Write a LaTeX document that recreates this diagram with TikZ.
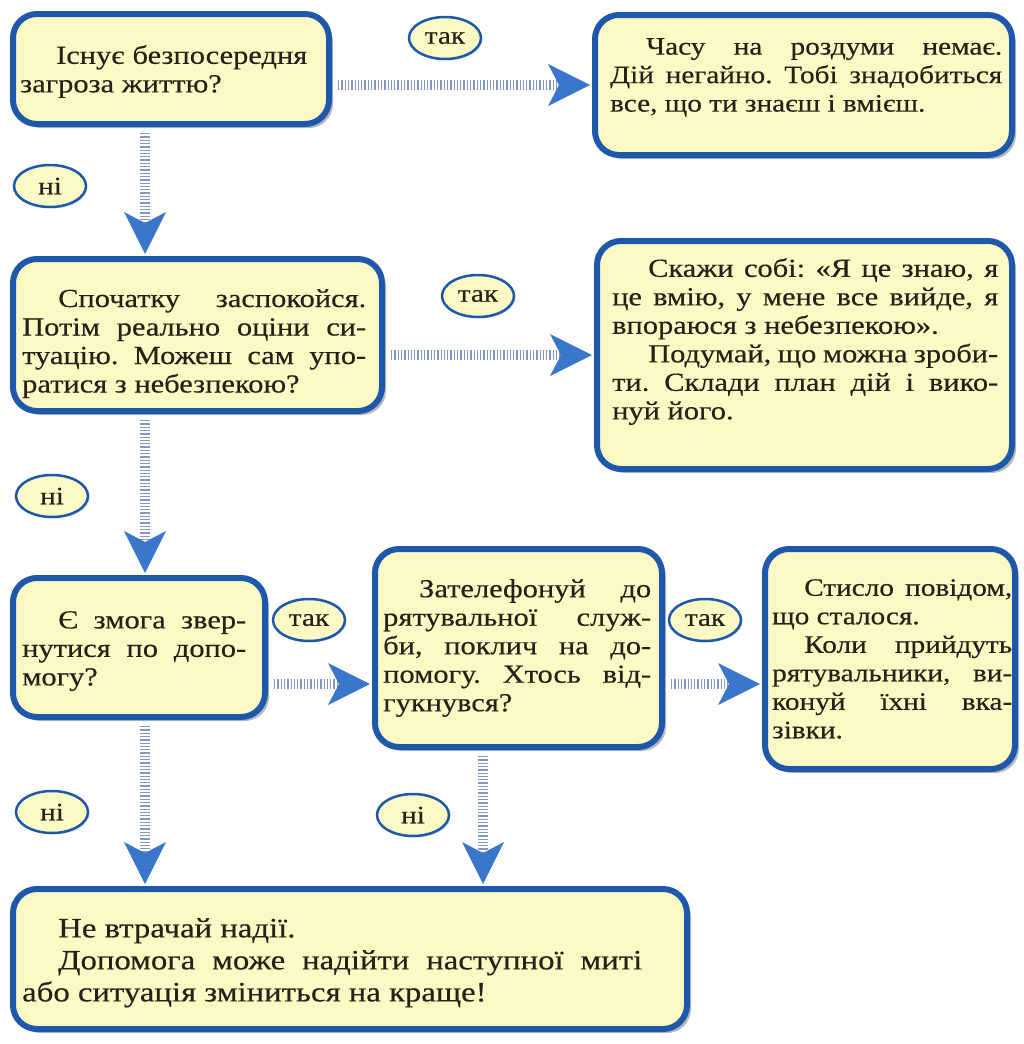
\documentclass[tikz,border=0pt]{standalone}
\usepackage{fontspec}
\setmainfont{Liberation Serif}[FakeStretch=1.17,FakeBold=0.4]
\usetikzlibrary{arrows.meta,shadows,calc,shapes.geometric}
\definecolor{boxfill}{RGB}{252,250,196}
\definecolor{boxline}{RGB}{30,88,170}
\definecolor{headblue}{RGB}{58,118,204}
\definecolor{dotblue}{RGB}{130,152,194}
\definecolor{ink}{RGB}{40,32,24}
\tolerance=9999
\hbadness=10000
\hfuzz=20pt
\hyphenpenalty=10000
\frenchspacing
\newcommand{\pin}{\hspace*{36pt}}
\tikzset{
  box/.style={draw=boxline, line width=6pt, fill=boxfill, rounded corners=24pt, inner sep=0pt,
    drop shadow={shadow xshift=4pt, shadow yshift=-4pt, fill=black!55, opacity=0.5}},
  boxtext/.style={anchor=north west, inner sep=0pt, text=ink, align=justify,
    font=\fontsize{26pt}{28.5pt}\selectfont},
  smalltext/.style={font=\fontsize{25pt}{28.5pt}\selectfont},
  bigtext/.style={font=\fontsize{28pt}{32pt}\selectfont},
  tag/.style={ellipse, draw=boxline, line width=2.5pt, fill=boxfill, minimum width=72pt,
    minimum height=42pt, inner sep=0pt, text=ink, font=\fontsize{25pt}{29pt}\selectfont,
    drop shadow={shadow xshift=1.5pt, shadow yshift=-1.5pt, fill=boxline!40, opacity=0.5}},
  conn/.style={draw=dotblue, line width=10pt, dash pattern=on 1.3pt off 2pt,
    shorten <=6pt, shorten >=2pt,
    -{Stealth[length=42pt,width=42pt,inset=11pt,color=headblue,line width=0pt]}},
}
\begin{document}
\begin{tikzpicture}[x=1pt,y=-1pt]
\useasboundingbox (0,0) rectangle (1023,1044);

% boxes
\node[box, minimum width=316pt, minimum height=110pt] (b1) at (171,69) {};
\node[box, minimum width=417pt, minimum height=140pt] (b2) at (803.5,85) {};
\node[box, minimum width=369pt, minimum height=152pt] (b3) at (197.5,335) {};
\node[box, minimum width=415pt, minimum height=228pt] (b4) at (804.5,355) {};
\node[box, minimum width=252pt, minimum height=139pt] (b5) at (139,647.5) {};
\node[box, minimum width=287pt, minimum height=198pt] (b6) at (518.5,648) {};
\node[box, minimum width=250pt, minimum height=220pt] (b7) at (890,659) {};
\node[box, minimum width=674pt, minimum height=140pt] (b8) at (350,959) {};

% texts
\node[boxtext, text width=287pt] (t1) at (20,45)
  {\pin Існує безпосередня\linebreak загроза життю?};
\node[boxtext, smalltext, text width=392pt] (t2) at (610,38)
  {\pin Часу на роздуми немає.\linebreak Дій негайно. Тобі знадобиться\linebreak все, що ти знаєш і вмієш.};
\node[boxtext, text width=344pt] (t3) at (22,289)
  {\pin Спочатку заспокойся.\linebreak Потім реально оціни си-\linebreak туацію. Можеш сам упо-\linebreak ратися з небезпекою?};
\node[boxtext, text width=386pt] (t4) at (612,258)
  {\pin Скажи собі: «Я це знаю, я\linebreak це вмію, у мене все вийде, я\linebreak впораюся з небезпекою».\par
   \pin Подумай, що можна зроби-\linebreak ти. Склади план дій і вико-\linebreak нуй його.};
\node[boxtext, text width=224pt] (t5) at (22,611)
  {\pin Є змога звер-\linebreak нутися по допо-\linebreak могу?};
\node[boxtext, text width=268pt] (t6) at (383,579)
  {\pin Зателефонуй до\linebreak рятувальної служ-\linebreak би, поклич на до-\linebreak помогу. Хтось від-\linebreak гукнувся?};
\node[boxtext, smalltext, text width=240pt] (t7) at (772,579)
  {\hspace*{32pt}Стисло повідом,\linebreak що сталося.\par
   \hspace*{32pt}Коли прийдуть\linebreak рятувальники, ви-\linebreak конуй їхні вка-\linebreak зівки.};
\node[boxtext, bigtext, text width=620pt] (t8) at (22,918)
  {\pin Не втрачай надії.\par
   \pin Допомога може надійти наступної миті\linebreak або ситуація зміниться на краще!};

% helper coordinates
\coordinate (colL) at (145,0);
\coordinate (colR) at (483,0);
\coordinate (rowA) at (0,684);

% connectors
\draw[conn] (b1.east |- b2.west) -- (b2.west);
\draw[conn] (b3.east |- b4.west) -- (b4.west);
\draw[conn] (b5.east |- rowA) -- (b6.west |- rowA);
\draw[conn] (b6.east |- rowA) -- (b7.west |- rowA);
\draw[conn] (b1.south -| colL) -- (b3.north -| colL);
\draw[conn] (b3.south -| colL) -- (b5.north -| colL);
\draw[conn] (b5.south -| colL) -- (b8.north -| colL);
\draw[conn] (b6.south -| colR) -- (b8.north -| colR);

% labels
\node[tag] (l1) at (445,38) {так};
\node[tag] (l2) at (50,186) {ні};
\node[tag] (l3) at (478,296) {так};
\node[tag] (l4) at (52,496) {ні};
\node[tag] (l5) at (309,620) {так};
\node[tag] (l6) at (705,620) {так};
\node[tag] (l7) at (52,812) {ні};
\node[tag] (l8) at (413,815) {ні};
\end{tikzpicture}
\end{document}
